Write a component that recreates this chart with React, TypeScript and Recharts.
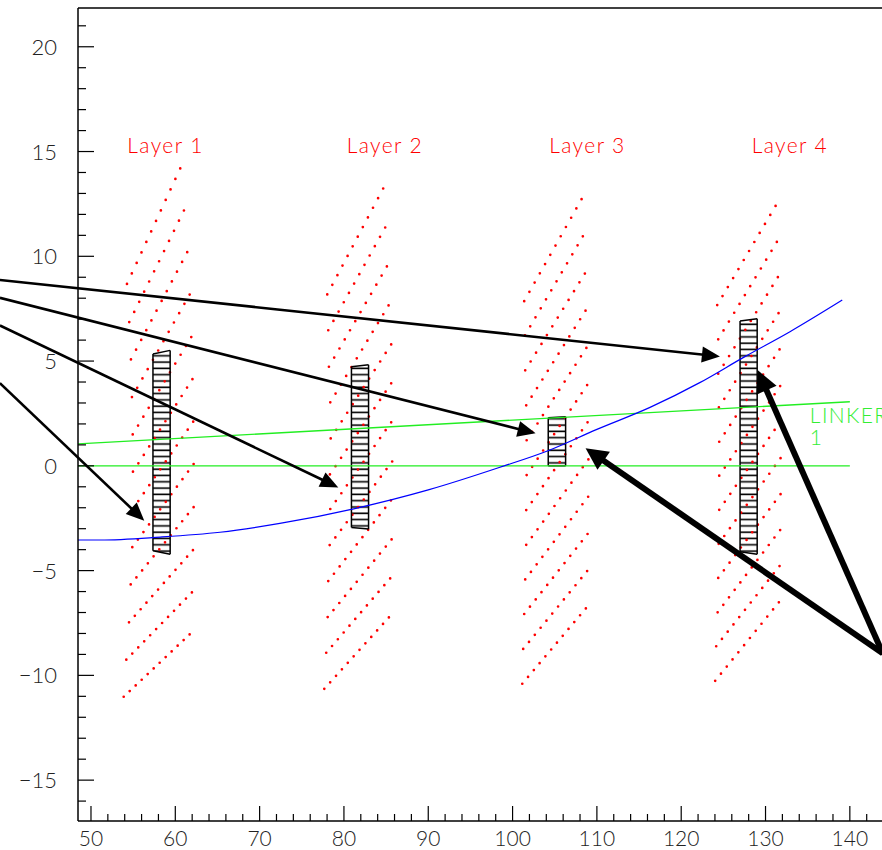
import { Area, ComposedChart, Line, ReferenceLine, Scatter, XAxis, YAxis } from 'recharts'

const X_MIN = 48.46
const X_MAX = 145
const Y_MIN = -16.95
const Y_MAX = 21.85
const FONT = 'Lato, "Liberation Sans", sans-serif'
const DOTS_PER_ROW = 12

const xTicks = [50, 52, 54, 56, 58, 60, 62, 64, 66, 68, 70, 72, 74, 76, 78, 80, 82, 84, 86, 88, 90, 92, 94, 96, 98,
  100, 102, 104, 106, 108, 110, 112, 114, 116, 118, 120, 122, 124, 126, 128, 130, 132, 134, 136, 138, 140, 142, 144]
const yTicks = [-16, -15, -14, -13, -12, -11, -10, -9, -8, -7, -6, -5, -4, -3, -2, -1, 0, 1, 2, 3, 4, 5, 6, 7, 8, 9,
  10, 11, 12, 13, 14, 15, 16, 17, 18, 19, 20, 21]

// strip rows of each layer: lower-left end and upper-right end of every dotted row
const layer1Low = [[54.27, 8.68], [54.54, 6.86], [54.74, 5.08], [54.86, 3.28], [54.95, 1.5], [54.98, -0.28],
  [54.96, -2.06], [54.9, -3.88], [54.71, -5.66], [54.51, -7.47], [54.19, -9.25], [53.88, -11.02]]
const layer1High = [[60.59, 14.2], [61.03, 12.19], [61.42, 10.2], [61.71, 8.18], [61.9, 6.15], [62.04, 4.14],
  [62.13, 2.11], [62.18, 0.09], [62.18, -1.97], [62.1, -4.02], [61.98, -6.04], [61.71, -8.04]]
const layer2Low = [[78.02, 8.18], [78.14, 6.47], [78.22, 4.73], [78.38, 3.03], [78.43, 1.31], [78.34, -0.41],
  [78.38, -2.06], [78.31, -3.78], [78.14, -5.5], [78.07, -7.22], [77.9, -8.92], [77.67, -10.64]]
const layer2High = [[84.66, 13.24], [84.9, 11.38], [85.1, 9.52], [85.3, 7.66], [85.61, 5.8], [85.61, 3.94],
  [85.61, 2.08], [85.73, 0.21], [85.58, -1.65], [85.66, -3.51], [85.49, -5.37], [85.34, -7.23]]
const layer3Low = [[101.38, 7.86], [101.47, 6.23], [101.5, 4.56], [101.62, 2.89], [101.67, 1.22], [101.67, -0.44],
  [101.62, -2.11], [101.62, -3.77], [101.5, -5.42], [101.38, -7.07], [101.26, -8.74], [101.15, -10.4]]
const layer3High = [[108.19, 12.73], [108.34, 10.96], [108.58, 9.18], [108.66, 7.41], [108.76, 5.63], [108.85, 3.86],
  [108.9, 2.08], [109.0, 0.31], [108.97, -1.47], [108.9, -3.25], [108.85, -5.02], [108.7, -6.8]]
const layer4Low = [[124.27, 7.67], [124.39, 6.04], [124.39, 4.4], [124.47, 2.79], [124.51, 1.15], [124.51, -0.47],
  [124.51, -2.1], [124.44, -3.72], [124.39, -5.35], [124.32, -6.99], [124.15, -8.61], [124.03, -10.26]]
const layer4High = [[131.2, 12.41], [131.35, 10.69], [131.47, 9.01], [131.55, 7.29], [131.67, 5.56], [131.74, 3.81],
  [131.74, 2.1], [131.79, 0.37], [131.79, -1.35], [131.74, -3.06], [131.67, -4.78], [131.59, -6.51]]

// hit boxes: x left, x right, top left, top right, bottom left, bottom right
const box1 = [57.35, 59.39, 5.34, 5.51, -4.05, -4.22]
const box2 = [80.89, 82.92, 4.73, 4.82, -2.94, -3.02]
const box3 = [104.23, 106.29, 2.3, 2.34, 0.0, 0.0]
const box4 = [126.98, 129.01, 6.91, 7.02, -4.1, -4.22]

// arrows: [start, tip]
const thinArrows = [
  [[39.2, 8.87], [124.59, 5.22]],
  [[39.2, 8.02], [102.73, 1.55]],
  [[39.2, 6.7], [79.33, -1.03]],
  [[39.2, 3.95], [56.32, -2.62]],
]
const thickArrows = [
  [[143.9, -8.95], [108.66, 0.84]],
  [[143.9, -8.95], [129.06, 4.57]],
]

const trackX = [48.46, 51.1, 58.2, 65.3, 72.4, 81.3, 90, 98.5, 104.2, 110, 116.3, 122.2, 127.5, 132.9, 139.1]
const trackY = [-3.54, -3.54, -3.4, -3.17, -2.75, -2.04, -1.15, -0.07, 0.72, 1.74, 2.79, 3.97, 5.2, 6.4, 7.91]

const linkerAxis = [[48.46, 0], [140, 0]]
const linkerLine = [[48.46, 1.05], [140, 3.06]]

const layerNames = ['Layer 1', 'Layer 2', 'Layer 3', 'Layer 4']
const layerLabelX = [58.84, 84.86, 108.88, 132.89]
const layerLabelY = 14.94
const linkerText = ['LINKER', '1']
const linkerTextX = 135.26
const linkerTextY = [2.03, 0.99]

const layers = [
  [layer1Low, layer1High],
  [layer2Low, layer2High],
  [layer3Low, layer3High],
  [layer4Low, layer4High],
]
const boxes = [box1, box2, box3, box4]

const trackData = trackX.map((x, i) => ({ x, y: trackY[i] }))
const labelData = [
  ...layerNames.map((t, i) => ({ x: layerLabelX[i], y: layerLabelY, text: t, color: '#ff0000', anchor: 'middle' })),
  ...linkerText.map((t, i) => ({ x: linkerTextX, y: linkerTextY[i], text: t, color: '#33ee33', anchor: 'start' })),
]

const DottedRow = (props: any) => {
  const { x1, y1, x2, y2 } = props
  const gap = Math.hypot(x2 - x1, y2 - y1) / (DOTS_PER_ROW - 1)
  return <line x1={x1} y1={y1} x2={x2} y2={y2} stroke="#ff0000" strokeWidth={2.7}
    strokeLinecap="round" strokeDasharray={`0 ${gap - 0.01}`} />
}

const arrowShape = (width: number, headLen: number, headHalf: number) => (props: any) => {
  const { x1, y1, x2, y2 } = props
  const len = Math.hypot(x2 - x1, y2 - y1)
  const ux = (x2 - x1) / len
  const uy = (y2 - y1) / len
  const bx = x2 - ux * headLen
  const by = y2 - uy * headLen
  return <g>
    <line x1={x1} y1={y1} x2={bx + ux * 2} y2={by + uy * 2} stroke="#000" strokeWidth={width} />
    <polygon fill="#000" points={`${x2},${y2} ${bx - uy * headHalf},${by + ux * headHalf} ${bx + uy * headHalf},${by - ux * headHalf}`} />
  </g>
}
const ThinArrow = arrowShape(2.6, 18, 8)
const ThickArrow = arrowShape(6, 22, 11)

const YTick = (props: any) => {
  const { x, y, payload } = props
  const v = payload.value
  const major = v % 5 === 0
  return <g>
    <line x1={x} x2={x + (major ? 16 : 8)} y1={y} y2={y} stroke="#000" strokeWidth={1.2} />
    {major && <text x={x - 21} y={y + 8} textAnchor="end" fontFamily={FONT} fontWeight={300} fontSize={22} fill="#222">
      {v < 0 ? '\u2212' + Math.abs(v) : v}
    </text>}
  </g>
}

const XTick = (props: any) => {
  const { x, y, payload } = props
  const v = payload.value
  const major = v % 10 === 0
  return <g>
    <line x1={x} x2={x} y1={y} y2={y - (major ? 15 : 7)} stroke="#000" strokeWidth={1.2} />
    {major && <text x={x} y={y + 25} textAnchor="middle" fontFamily={FONT} fontWeight={300} fontSize={21} fill="#222">{v}</text>}
  </g>
}

const LabelShape = (props: any) => {
  const { cx, cy, payload } = props
  return <text x={cx} y={cy} textAnchor={payload.anchor} fontFamily={FONT} fontWeight={300} fontSize={21}
    fill={payload.color} letterSpacing={1.4}>{payload.text}</text>
}

export default function App() {
  return <div style={{ position: 'absolute', left: 0, top: 0, width: 882, height: 850, overflow: 'hidden', background: '#fff' }}>
    <ComposedChart width={900} height={850} margin={{ top: 8, right: 8, bottom: 0, left: 0 }}>
      <defs>
        <pattern id="hatch" patternUnits="userSpaceOnUse" width={10} height={6.3}>
          <line x1={0} x2={10} y1={3} y2={3} stroke="#000" strokeWidth={1.6} />
        </pattern>
      </defs>
      <XAxis type="number" dataKey="x" domain={[X_MIN, X_MAX]} ticks={xTicks} interval={0} allowDataOverflow
        height={29} tickSize={0} tickMargin={0} tickLine={false} axisLine={{ stroke: '#000', strokeWidth: 1.5 }} tick={<XTick />} />
      <YAxis type="number" domain={[Y_MIN, Y_MAX]} ticks={yTicks} interval={0} allowDataOverflow
        width={78} tickSize={0} tickMargin={0} tickLine={false} axisLine={{ stroke: '#000', strokeWidth: 1.5 }} tick={<YTick />} />
      <ReferenceLine y={Y_MAX} stroke="#000" strokeWidth={1.5} ifOverflow="visible" />
      <ReferenceLine x={X_MAX} stroke="#000" strokeWidth={1.5} ifOverflow="visible" />

      {layers.flatMap(([low, high], li) => low.map((p, i) => (
        <ReferenceLine key={`row-${li}-${i}`} ifOverflow="visible"
          segment={[{ x: p[0], y: p[1] }, { x: high[i][0], y: high[i][1] }]} shape={DottedRow} />
      )))}

      {boxes.map((b, i) => (
        <Area key={`hatch-${i}`} data={[{ x: b[0], range: [b[4], b[2]] }, { x: b[1], range: [b[5], b[3]] }]}
          dataKey="range" type="linear" stroke="none" fill="url(#hatch)" fillOpacity={1} isAnimationActive={false} />
      ))}
      {boxes.flatMap((b, i) => [
        [[b[0], b[2]], [b[1], b[3]]],
        [[b[1], b[3]], [b[1], b[5]]],
        [[b[1], b[5]], [b[0], b[4]]],
        [[b[0], b[4]], [b[0], b[2]]],
      ].map((s, j) => (
        <ReferenceLine key={`box-${i}-${j}`} ifOverflow="visible" stroke="#000" strokeWidth={1.5}
          segment={[{ x: s[0][0], y: s[0][1] }, { x: s[1][0], y: s[1][1] }]} />
      )))}

      <ReferenceLine ifOverflow="visible" stroke="#22ee22" strokeWidth={1.4}
        segment={[{ x: linkerAxis[0][0], y: linkerAxis[0][1] }, { x: linkerAxis[1][0], y: linkerAxis[1][1] }]} />
      <ReferenceLine ifOverflow="visible" stroke="#22ee22" strokeWidth={1.4}
        segment={[{ x: linkerLine[0][0], y: linkerLine[0][1] }, { x: linkerLine[1][0], y: linkerLine[1][1] }]} />
      <Line data={trackData} dataKey="y" type="monotone" stroke="#0000ff" strokeWidth={1.2} dot={false} isAnimationActive={false} />

      {thinArrows.map((a, i) => (
        <ReferenceLine key={`ta-${i}`} ifOverflow="visible" shape={ThinArrow}
          segment={[{ x: a[0][0], y: a[0][1] }, { x: a[1][0], y: a[1][1] }]} />
      ))}
      {thickArrows.map((a, i) => (
        <ReferenceLine key={`ka-${i}`} ifOverflow="visible" shape={ThickArrow}
          segment={[{ x: a[0][0], y: a[0][1] }, { x: a[1][0], y: a[1][1] }]} />
      ))}

      <Scatter data={labelData} dataKey="y" shape={LabelShape} isAnimationActive={false} />
    </ComposedChart>
  </div>
}
